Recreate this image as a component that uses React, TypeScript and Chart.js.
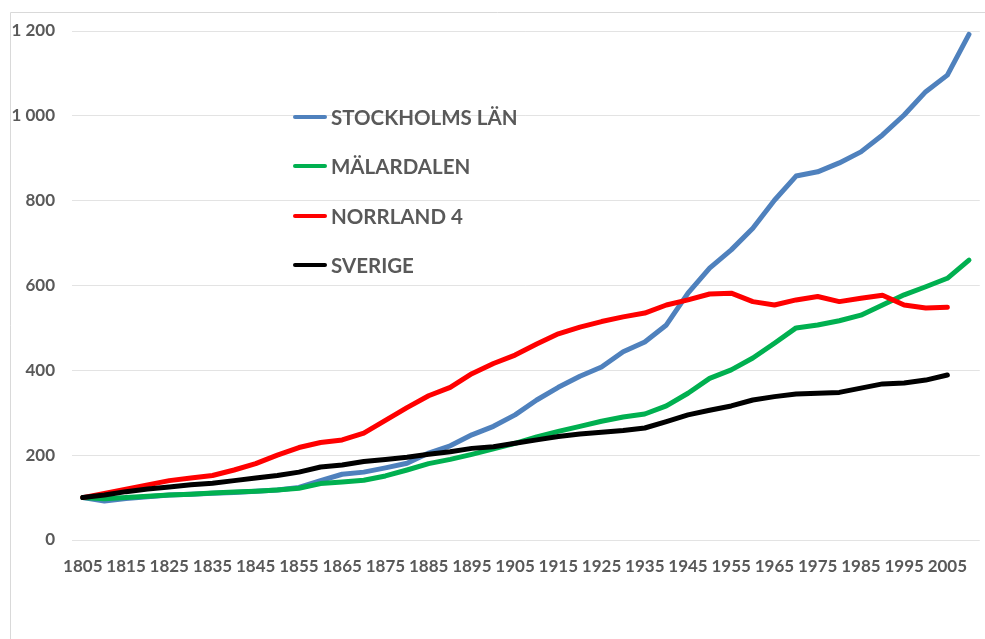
import { useEffect, useRef } from 'react';
import { Chart, registerables } from 'chart.js';
Chart.register(...registerables);

const years = [
  '1805', '1810', '1815', '1820', '1825', '1830', '1835', '1840', '1845', '1850',
  '1855', '1860', '1865', '1870', '1875', '1880', '1885', '1890', '1895', '1900',
  '1905', '1910', '1915', '1920', '1925', '1930', '1935', '1940', '1945', '1950',
  '1955', '1960', '1965', '1970', '1975', '1980', '1985', '1990', '1995', '2000',
  '2005', '2010',
];

const stockholm = [
  100, 92, 98, 102, 106, 108, 110, 112, 115, 118,
  124, 140, 155, 160, 170, 181, 205, 222, 248, 268,
  295, 330, 360, 386, 408, 444, 467, 507, 582, 641,
  684, 735, 801, 858, 868, 889, 915, 955, 1002, 1057,
  1096, 1192,
];

const malardalen = [
  100, 97, 100, 103, 106, 108, 111, 113, 115, 118,
  122, 133, 137, 141, 151, 165, 180, 190, 202, 215,
  228, 243, 256, 268, 280, 290, 297, 316, 346, 381,
  401, 429, 464, 500, 507, 517, 530, 554, 578, 597,
  617, 660,
];

const norrland = [
  100, 110, 120, 130, 140, 146, 152, 165, 180, 200,
  218, 230, 236, 252, 282, 312, 340, 360, 392, 416,
  436, 462, 486, 502, 515, 526, 535, 554, 566, 580,
  582, 562, 554, 566, 574, 562, 570, 577, 554, 547,
  549, null,
];

const sverige = [
  100, 106, 114, 120, 125, 130, 134, 140, 146, 152,
  160, 172, 177, 185, 190, 195, 202, 208, 216, 220,
  228, 236, 244, 250, 254, 258, 264, 279, 295, 306,
  316, 330, 338, 344, 346, 348, 358, 368, 370, 377,
  389, null,
];

const seriesNames = ['STOCKHOLMS LÄN', 'MÄLARDALEN', 'NORRLAND 4', 'SVERIGE'];
const seriesColors = ['#4f81bd', '#00b050', '#ff0000', '#000000'];
const seriesValues = [stockholm, malardalen, norrland, sverige];

const yTickValues = [0, 200, 400, 600, 800, 1000, 1200];

function formatThousands(v: number): string {
  if (v >= 1000) {
    return `${Math.floor(v / 1000)} ${String(v % 1000).padStart(3, '0')}`;
  }
  return String(v);
}

const FONT = 'Lato, "Open Sans", sans-serif';
const TEXT_COLOR = '#595959';

export default function App() {
  const ref = useRef<HTMLCanvasElement | null>(null);

  useEffect(() => {
    if (!ref.current) return;

    const legendPlugin = {
      id: 'customLegendFrame',
      afterDraw(chart: any) {
        const ctx = chart.ctx as CanvasRenderingContext2D;
        ctx.save();
        // outer frame
        ctx.strokeStyle = '#d9d9d9';
        ctx.lineWidth = 1;
        ctx.beginPath();
        ctx.moveTo(10.5, 639);
        ctx.lineTo(10.5, 12.5);
        ctx.lineTo(985, 12.5);
        ctx.stroke();

        // legend inside plot
        const x0 = 295;
        const x1 = 325;
        const textX = 331;
        const ys = [117, 166, 216, 265];
        ctx.font = `bold 20.5px ${FONT}`;
        ctx.textBaseline = 'middle';
        ctx.textAlign = 'left';
        chart.data.datasets.forEach((ds: any, i: number) => {
          const y = ys[i];
          ctx.strokeStyle = ds.borderColor;
          ctx.lineWidth = 4;
          ctx.lineCap = 'round';
          ctx.beginPath();
          ctx.moveTo(x0, y);
          ctx.lineTo(x1, y);
          ctx.stroke();
          ctx.fillStyle = TEXT_COLOR;
          ctx.fillText(ds.label, textX, y + 1);
        });
        ctx.restore();
      },
    };

    const chart = new Chart(ref.current, {
      type: 'line',
      data: {
        labels: years,
        datasets: seriesValues.map((vals, i) => ({
          label: seriesNames[i],
          data: vals,
          borderColor: seriesColors[i],
          backgroundColor: seriesColors[i],
          borderWidth: 5,
          pointRadius: 0,
          tension: 0,
          borderCapStyle: 'round' as const,
          borderJoinStyle: 'round' as const,
          spanGaps: false,
          order: seriesValues.length - i,
        })),
      },
      options: {
        animation: false,
        responsive: true,
        maintainAspectRatio: false,
        layout: { padding: { top: 31, right: 2, bottom: 0, left: 0 } },
        plugins: {
          legend: { display: false },
          tooltip: { enabled: false },
        },
        scales: {
          x: {
            type: 'category',
            offset: true,
            grid: { display: false, drawTicks: false },
            border: { display: false },
            afterFit: (s: any) => {
              s.height = 99;
            },
            ticks: {
              autoSkip: false,
              maxRotation: 0,
              minRotation: 0,
              padding: 16,
              color: TEXT_COLOR,
              font: { family: FONT, size: 17, weight: 'bold' },
              callback: (_v: any, idx: number) => (idx % 2 === 0 ? years[idx] : ''),
            },
          },
          y: {
            min: 0,
            max: 1200,
            afterFit: (s: any) => {
              s.width = 72;
            },
            afterBuildTicks: (s: any) => {
              s.ticks = yTickValues.map((v) => ({ value: v }));
            },
            grid: { color: '#e3e3e3', lineWidth: 1, drawTicks: false },
            border: { display: false },
            ticks: {
              padding: 17,
              color: TEXT_COLOR,
              font: { family: FONT, size: 17, weight: 'bold' },
              callback: (v: any) => formatThousands(Number(v)),
            },
          },
        },
      },
      plugins: [legendPlugin],
    });

    return () => chart.destroy();
  }, []);

  return (
    <div
      style={{
        position: 'fixed',
        left: 0,
        top: 0,
        width: 985,
        height: 639,
        background: '#ffffff',
      }}
    >
      <canvas ref={ref} />
    </div>
  );
}
